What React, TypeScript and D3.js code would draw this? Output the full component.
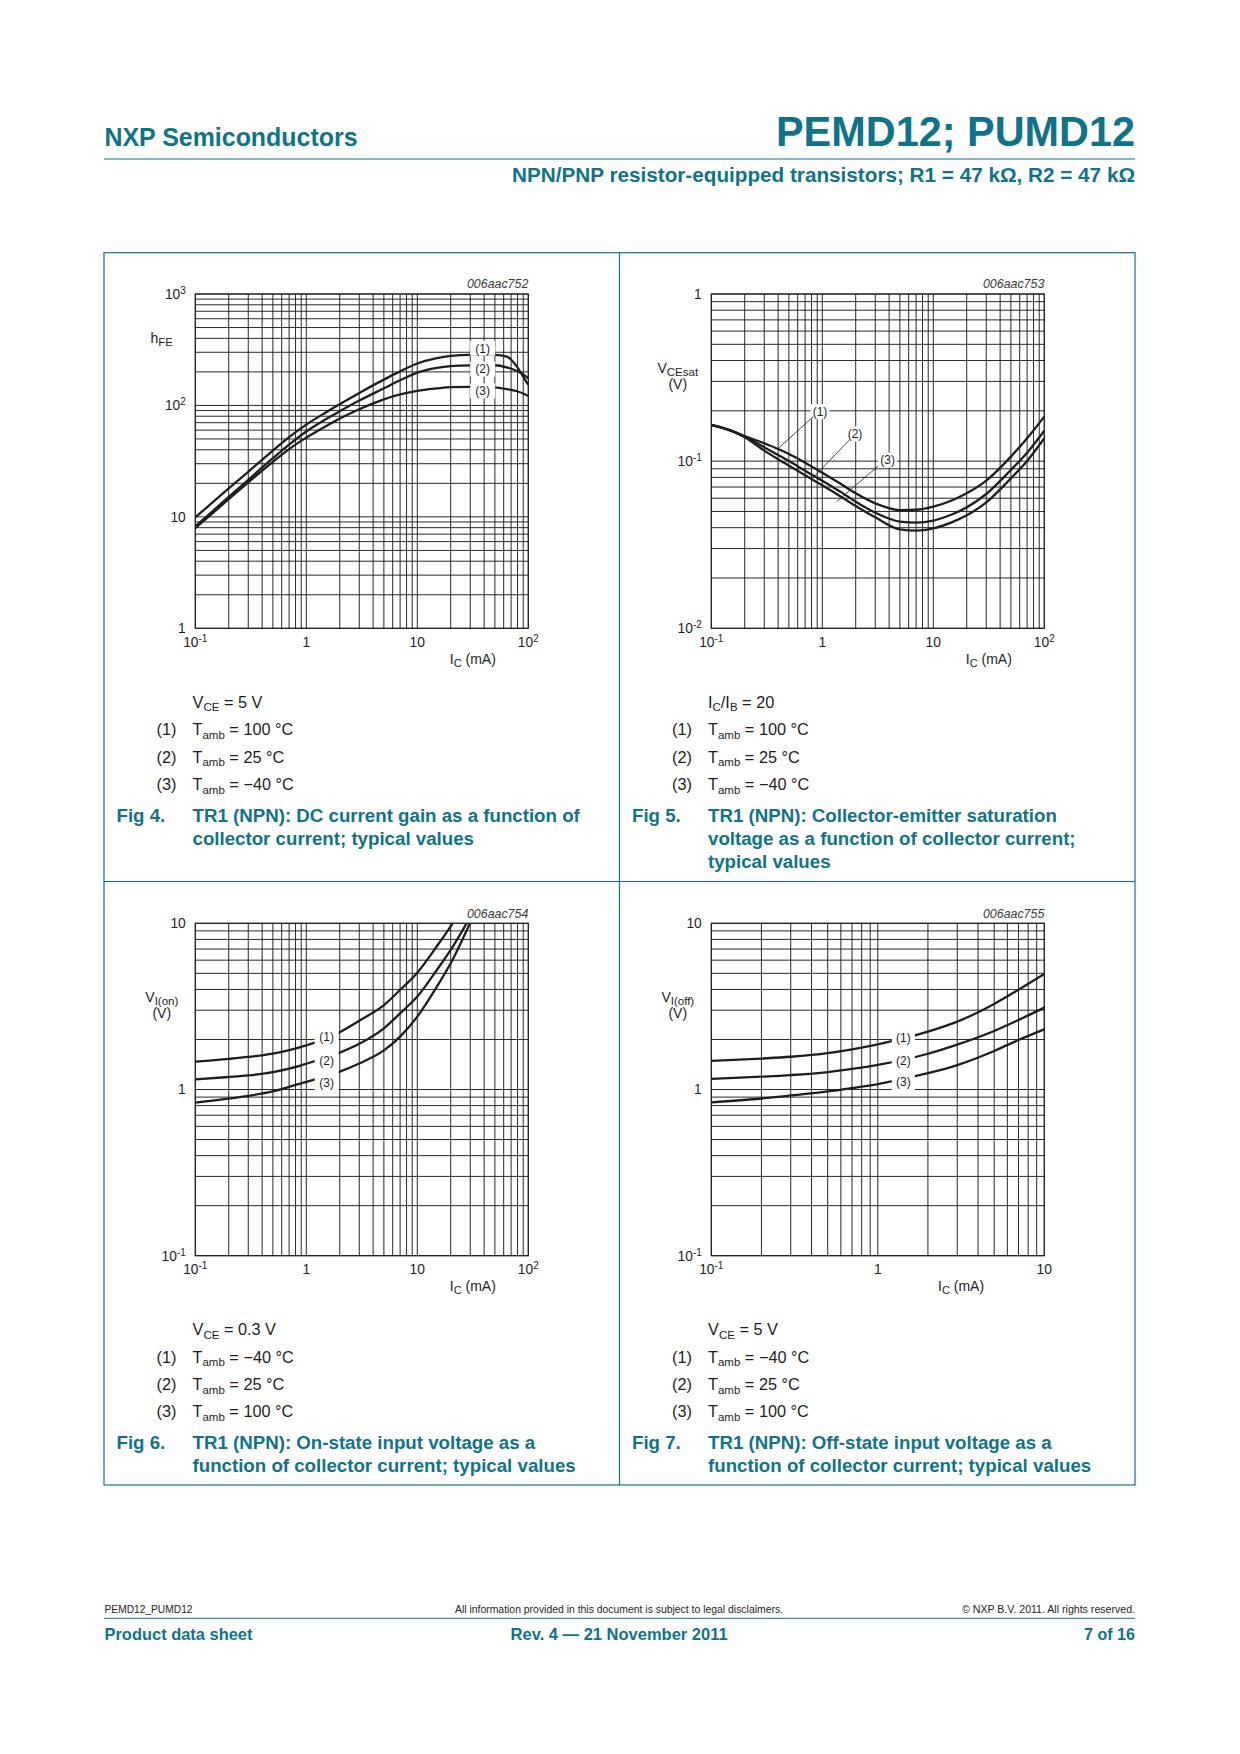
import React from "react";
import * as d3 from "d3";

const FONT = "'Liberation Sans', Arial, Helvetica, sans-serif";
const TEAL = "#0f7389";
const INK = "#1e1e1e";

// ---------- Fig 4: hFE vs IC ----------
const fig4Ic = [0.1, 0.2, 0.3, 0.5, 0.7, 1, 1.5, 2, 3, 5, 7, 10, 15, 20, 30, 50, 64, 79, 90, 100];
const fig4Hfe100 = [9.9, 18.0, 25.4, 39.4, 52.0, 67.3, 86.5, 102.5, 129.5, 170.5, 202, 238, 266, 278, 284, 284, 273.7, 222.7, 181, 152.6];
const fig4Hfe25 = [8.2, 15.1, 21.5, 33.6, 44.5, 58.4, 75.1, 88.5, 110.5, 142.4, 168, 197, 217.5, 225.5, 229, 229.5, 220, 204, 190, 175.2];
const fig4HfeM40 = [7.9, 14.4, 20.4, 31.2, 40.6, 51.4, 65.0, 76.2, 92.5, 113.5, 125.5, 135, 142, 146, 147, 145, 140, 134, 128, 121.5];
const fig4LabelIc = [38.8, 38.8, 38.8];
const fig4LabelHfe = [325.6, 212, 134.9];

// ---------- Fig 5: VCEsat vs IC ----------
const fig5Ic = [0.1, 0.15, 0.2, 0.3, 0.4, 0.5, 0.7, 1, 1.5, 2, 3, 5, 7, 10, 15, 20, 30, 50, 70, 100];
const fig5V100 = [0.1646, 0.1522, 0.1414, 0.1278, 0.1182, 0.1104, 0.0979, 0.0853, 0.0724, 0.0642, 0.0559, 0.051, 0.0512, 0.0534, 0.0586, 0.0642, 0.0764, 0.1064, 0.137, 0.1846];
const fig5V25 = [0.1646, 0.1522, 0.1402, 0.121, 0.1089, 0.1002, 0.0877, 0.0764, 0.0648, 0.0572, 0.0492, 0.0435, 0.0429, 0.0441, 0.0483, 0.0529, 0.0636, 0.0886, 0.1124, 0.1522];
const fig5VM40 = [0.1646, 0.1522, 0.1389, 0.1156, 0.1026, 0.094, 0.0823, 0.0717, 0.0608, 0.0539, 0.0461, 0.0391, 0.0384, 0.0396, 0.0433, 0.0474, 0.0567, 0.0789, 0.1002, 0.137];
const fig5LabelIc = [0.953, 1.97, 3.878];
const fig5LabelV = [0.1978, 0.1454, 0.1016];
const fig5LeaderFrom = [[0.4016, 0.1193], [0.818, 0.0789], [1.346, 0.0572]];
const fig5LeaderTo = [[0.8297, 0.1846], [1.751, 0.1338], [3.195, 0.0936]];

// ---------- Fig 6: VI(on) vs IC (last point lies above the frame and is clipped) ----------
const fig6IcM40 = [0.1, 0.2, 0.3, 0.5, 0.7, 1, 2, 3, 5, 7, 10, 15, 20, 25];
const fig6VM40 = [1.471, 1.528, 1.57, 1.644, 1.726, 1.841, 2.213, 2.594, 3.221, 3.972, 5.047, 7.278, 9.59, 12.0];
const fig6Ic25 = [0.1, 0.2, 0.3, 0.5, 0.7, 1, 2, 3, 5, 7, 10, 15, 20, 27.8];
const fig6V25 = [1.151, 1.189, 1.216, 1.271, 1.334, 1.429, 1.667, 1.884, 2.333, 2.871, 3.622, 5.236, 6.911, 10];
const fig6Ic100 = [0.1, 0.2, 0.3, 0.5, 0.7, 1, 2, 3, 5, 7, 10, 15, 20, 29.8];
const fig6V100 = [0.833, 0.881, 0.916, 0.973, 1.038, 1.112, 1.282, 1.435, 1.718, 2.08, 2.744, 4.157, 5.744, 10];
const fig6LabelIc = [1.525, 1.525, 1.525];
const fig6LabelV = [2.08, 1.491, 1.099];

// ---------- Fig 7: VI(off) vs IC ----------
const fig7Ic = [0.1, 0.2, 0.3, 0.5, 0.7, 1, 2, 3, 5, 7, 10];
const fig7VM40 = [1.485, 1.535, 1.574, 1.656, 1.746, 1.871, 2.228, 2.559, 3.273, 3.981, 4.955];
const fig7V25 = [1.157, 1.194, 1.222, 1.274, 1.33, 1.406, 1.641, 1.862, 2.249, 2.618, 3.108];
const fig7V100 = [0.837, 0.883, 0.92, 0.973, 1.021, 1.079, 1.253, 1.403, 1.706, 1.986, 2.301];
const fig7LabelIc = [1.423, 1.423, 1.423];
const fig7LabelV = [2.06, 1.491, 1.115];

// ---------- tick labels ----------
type Tick = { v: number; base: string; exp?: string };
const xTicks3: Tick[] = [{ v: 0.1, base: "10", exp: "-1" }, { v: 1, base: "1" }, { v: 10, base: "10" }, { v: 100, base: "10", exp: "2" }];
const xTicks2: Tick[] = [{ v: 0.1, base: "10", exp: "-1" }, { v: 1, base: "1" }, { v: 10, base: "10" }];
const hfeTicks: Tick[] = [{ v: 1, base: "1" }, { v: 10, base: "10" }, { v: 100, base: "10", exp: "2" }, { v: 1000, base: "10", exp: "3" }];
const vcesatTicks: Tick[] = [{ v: 0.01, base: "10", exp: "-2" }, { v: 0.1, base: "10", exp: "-1" }, { v: 1, base: "1" }];
const vinTicks: Tick[] = [{ v: 0.1, base: "10", exp: "-1" }, { v: 1, base: "1" }, { v: 10, base: "10" }];
const curveNames = ["(1)", "(2)", "(3)"];

function logGrid(domain: number[]) {
  const out: number[] = [];
  const e0 = Math.floor(Math.log10(domain[0]) + 1e-9);
  const e1 = Math.ceil(Math.log10(domain[1]) - 1e-9);
  for (let e = e0; e <= e1; e++) {
    for (let k = 1; k <= 9; k++) {
      const v = k * Math.pow(10, e);
      if (v >= domain[0] * 0.999 && v <= domain[1] * 1.001) out.push(v);
    }
  }
  return out;
}

const TickText = ({ t, x, y, anchor }: any) => (
  <text x={x} y={y} textAnchor={anchor} fontSize={13.8} fontFamily={FONT} fill={INK}>
    <tspan>{t.base}</tspan>
    {t.exp ? <tspan dy={-5} fontSize={10}>{t.exp}</tspan> : null}
  </text>
);

type ChartSpec = {
  id: string;
  left: number; top: number; width: number; height: number;
  xDomain: number[]; yDomain: number[];
  series: { x: number[]; y: number[] }[];
  xTicks: Tick[]; yTicks: Tick[];
  yMain: string; ySub: string; yUnit?: string;
  code: string;
  labelX: number[]; labelY: number[];
  mask: "each" | "column"; maskW: number; maskH: number;
  leaderFrom?: number[][]; leaderTo?: number[][];
};

const Chart = ({ s }: { s: ChartSpec }) => {
  const xs = d3.scaleLog().domain(s.xDomain).range([s.left, s.left + s.width]);
  const ys = d3.scaleLog().domain(s.yDomain).range([s.top + s.height, s.top]);
  const line = d3.line<[number, number]>().x(d => xs(d[0])).y(d => ys(d[1])).curve(d3.curveMonotoneX);
  const xg = logGrid(s.xDomain);
  const yg = logGrid(s.yDomain);
  const bottom = s.top + s.height;
  const right = s.left + s.width;
  const majors = s.xTicks.map(t => t.v);
  const titleIc = Math.sqrt(majors[majors.length - 1] * majors[majors.length - 2]);
  const lx = s.labelX.map(v => xs(v));
  const ly = s.labelY.map(v => ys(v));
  return (
    <g>
      <defs>
        <clipPath id={"clip-" + s.id}>
          <rect x={s.left} y={s.top} width={s.width} height={s.height} />
        </clipPath>
      </defs>
      {xg.map((v, i) => (
        <line key={"xg" + i} x1={xs(v)} x2={xs(v)} y1={s.top} y2={bottom} stroke={INK} strokeWidth={0.95} />
      ))}
      {yg.map((v, i) => (
        <line key={"yg" + i} x1={s.left} x2={right} y1={ys(v)} y2={ys(v)} stroke={INK} strokeWidth={0.95} />
      ))}
      <rect x={s.left} y={s.top} width={s.width} height={s.height} fill="none" stroke={INK} strokeWidth={1.1} />
      <g clipPath={`url(#clip-${s.id})`}>
        {s.series.map((sr, i) => (
          <path key={"c" + i} d={line(sr.x.map((x, j) => [x, sr.y[j]] as [number, number])) || ""} fill="none" stroke={INK} strokeWidth={2.3} strokeLinejoin="round" />
        ))}
      </g>
      {s.mask === "each"
        ? lx.map((x, i) => (
            <rect key={"m" + i} x={x - s.maskW / 2} y={ly[i] - s.maskH / 2} width={s.maskW} height={s.maskH} fill="#fff" />
          ))
        : <rect x={lx[0] - s.maskW / 2} y={ly[0] - s.maskH / 2} width={s.maskW} height={ly[ly.length - 1] - ly[0] + s.maskH} fill="#fff" />}
      {s.leaderFrom && s.leaderTo
        ? s.leaderFrom.map((p, i) => (
            <line key={"ld" + i} x1={xs(p[0])} y1={ys(p[1])} x2={xs(s.leaderTo![i][0])} y2={ys(s.leaderTo![i][1])} stroke={INK} strokeWidth={0.8} />
          ))
        : null}
      {lx.map((x, i) => (
        <text key={"lb" + i} x={x} y={ly[i] + 4.3} textAnchor="middle" fontSize={12} fontFamily={FONT} fill={INK}>{curveNames[i]}</text>
      ))}
      {s.xTicks.map((t, i) => (
        <TickText key={"xt" + i} t={t} x={xs(t.v)} y={bottom + 18.5} anchor="middle" />
      ))}
      {s.yTicks.map((t, i) => (
        <TickText key={"yt" + i} t={t} x={s.left - 9.5} y={ys(t.v) + 4.8} anchor="end" />
      ))}
      <text x={xs(titleIc)} y={bottom + 35.5} textAnchor="middle" fontSize={14} fontFamily={FONT} fill={INK} style={{ whiteSpace: "pre" }}>
        <tspan>I</tspan><tspan fontSize={11} dy={3}>C</tspan><tspan dy={-3}>{" (mA)"}</tspan>
      </text>
      <text x={s.left - 33.5} y={s.top + (s.yUnit ? 79 : 49)} textAnchor="middle" fontSize={14} fontFamily={FONT} fill={INK}>
        <tspan>{s.yMain}</tspan><tspan fontSize={11.5} dy={3}>{s.ySub}</tspan>
      </text>
      {s.yUnit ? (
        <text x={s.left - 33.5} y={s.top + 94.5} textAnchor="middle" fontSize={14} fontFamily={FONT} fill={INK}>{s.yUnit}</text>
      ) : null}
      <text x={right} y={s.top - 5.7} textAnchor="end" fontSize={12.4} fontStyle="italic" fontFamily={FONT} fill="#3a3a3a">{s.code}</text>
    </g>
  );
};

const charts: ChartSpec[] = [
  {
    id: "f4", left: 195.3, top: 294, width: 333, height: 334.3,
    xDomain: [0.1, 100], yDomain: [1, 1000],
    series: [{ x: fig4Ic, y: fig4Hfe100 }, { x: fig4Ic, y: fig4Hfe25 }, { x: fig4Ic, y: fig4HfeM40 }],
    xTicks: xTicks3, yTicks: hfeTicks, yMain: "h", ySub: "FE", code: "006aac752",
    labelX: fig4LabelIc, labelY: fig4LabelHfe, mask: "each", maskW: 25, maskH: 15,
  },
  {
    id: "f5", left: 711.3, top: 294, width: 333, height: 334.3,
    xDomain: [0.1, 100], yDomain: [0.01, 1],
    series: [{ x: fig5Ic, y: fig5V100 }, { x: fig5Ic, y: fig5V25 }, { x: fig5Ic, y: fig5VM40 }],
    xTicks: xTicks3, yTicks: vcesatTicks, yMain: "V", ySub: "CEsat", yUnit: "(V)", code: "006aac753",
    labelX: fig5LabelIc, labelY: fig5LabelV, mask: "each", maskW: 19, maskH: 15,
    leaderFrom: fig5LeaderFrom, leaderTo: fig5LeaderTo,
  },
  {
    id: "f6", left: 195.3, top: 923.3, width: 333, height: 332.4,
    xDomain: [0.1, 100], yDomain: [0.1, 10],
    series: [{ x: fig6IcM40, y: fig6VM40 }, { x: fig6Ic25, y: fig6V25 }, { x: fig6Ic100, y: fig6V100 }],
    xTicks: xTicks3, yTicks: vinTicks, yMain: "V", ySub: "I(on)", yUnit: "(V)", code: "006aac754",
    labelX: fig6LabelIc, labelY: fig6LabelV, mask: "column", maskW: 24, maskH: 18,
  },
  {
    id: "f7", left: 711.3, top: 923.3, width: 333, height: 332.4,
    xDomain: [0.1, 10], yDomain: [0.1, 10],
    series: [{ x: fig7Ic, y: fig7VM40 }, { x: fig7Ic, y: fig7V25 }, { x: fig7Ic, y: fig7V100 }],
    xTicks: xTicks2, yTicks: vinTicks, yMain: "V", ySub: "I(off)", yUnit: "(V)", code: "006aac755",
    labelX: fig7LabelIc, labelY: fig7LabelV, mask: "column", maskW: 23, maskH: 18,
  },
];

type Legend = {
  boxLeft: number; base: number;
  cond: React.ReactNode;
  temps: string[];
  fig: string;
  caption: string[];
};

const tempsHot = ["100 °C", "25 °C", "\u221240 °C"];
const tempsCold = ["\u221240 °C", "25 °C", "100 °C"];

const legends: Legend[] = [
  {
    boxLeft: 104, base: 628.3,
    cond: (<><tspan>V</tspan><tspan fontSize={11.5} dy={3.5}>CE</tspan><tspan dy={-3.5}>{" = 5 V"}</tspan></>),
    temps: tempsHot, fig: "Fig 4.",
    caption: ["TR1 (NPN): DC current gain as a function of", "collector current; typical values"],
  },
  {
    boxLeft: 619.5, base: 628.3,
    cond: (<><tspan>I</tspan><tspan fontSize={11.5} dy={3.5}>C</tspan><tspan dy={-3.5}>/I</tspan><tspan fontSize={11.5} dy={3.5}>B</tspan><tspan dy={-3.5}>{" = 20"}</tspan></>),
    temps: tempsHot, fig: "Fig 5.",
    caption: ["TR1 (NPN): Collector-emitter saturation", "voltage as a function of collector current;", "typical values"],
  },
  {
    boxLeft: 104, base: 1255.7,
    cond: (<><tspan>V</tspan><tspan fontSize={11.5} dy={3.5}>CE</tspan><tspan dy={-3.5}>{" = 0.3 V"}</tspan></>),
    temps: tempsCold, fig: "Fig 6.",
    caption: ["TR1 (NPN): On-state input voltage as a", "function of collector current; typical values"],
  },
  {
    boxLeft: 619.5, base: 1255.7,
    cond: (<><tspan>V</tspan><tspan fontSize={11.5} dy={3.5}>CE</tspan><tspan dy={-3.5}>{" = 5 V"}</tspan></>),
    temps: tempsCold, fig: "Fig 7.",
    caption: ["TR1 (NPN): Off-state input voltage as a", "function of collector current; typical values"],
  },
];

const LegendBlock = ({ l }: { l: Legend }) => {
  const tx = l.boxLeft + 88.5;
  return (
    <g fontFamily={FONT} style={{ whiteSpace: "pre" }}>
      <text x={tx} y={l.base + 79.4} fontSize={16.3} fill={INK}>{l.cond}</text>
      {l.temps.map((t, i) => (
        <g key={i}>
          <text x={l.boxLeft + 52.5} y={l.base + 106.9 + i * 27.4} fontSize={16.3} fill={INK}>{curveNames[i]}</text>
          <text x={tx} y={l.base + 106.9 + i * 27.4} fontSize={16.3} fill={INK}>
            <tspan>T</tspan><tspan fontSize={11.5} dy={3.5}>amb</tspan><tspan dy={-3.5}>{" = " + t}</tspan>
          </text>
        </g>
      ))}
      <text x={l.boxLeft + 12.5} y={l.base + 193.4} fontSize={18.7} fontWeight="bold" fill={TEAL}>{l.fig}</text>
      {l.caption.map((c, i) => (
        <text key={"c" + i} x={tx} y={l.base + 193.4 + i * 23} fontSize={18.7} fontWeight="bold" fill={TEAL}>{c}</text>
      ))}
    </g>
  );
};

export default function App() {
  return (
    <svg width={1240} height={1754} viewBox="0 0 1240 1754" style={{ position: "absolute", left: 0, top: 0, background: "#fff" }}>
      <rect x={0} y={0} width={1240} height={1754} fill="#fff" />
      {/* header */}
      <text x={104.5} y={145.5} fontFamily={FONT} fontWeight="bold" fontSize={25} fill={TEAL} textLength={253} lengthAdjust="spacingAndGlyphs">NXP Semiconductors</text>
      <text x={776} y={146} fontFamily={FONT} fontWeight="bold" fontSize={43} fill={TEAL} textLength={359} lengthAdjust="spacingAndGlyphs">PEMD12; PUMD12</text>
      <line x1={104} x2={1135} y1={159} y2={159} stroke={TEAL} strokeWidth={1.2} />
      <text x={512} y={181.5} fontFamily={FONT} fontWeight="bold" fontSize={19.5} fill={TEAL} textLength={623} lengthAdjust="spacingAndGlyphs">NPN/PNP resistor-equipped transistors; R1 = 47 kΩ, R2 = 47 kΩ</text>

      {/* frame */}
      <rect x={104} y={252.7} width={1031} height={1232.3} fill="none" stroke={TEAL} strokeWidth={1.2} />
      <line x1={619.5} x2={619.5} y1={252.7} y2={1485} stroke={TEAL} strokeWidth={1.2} />
      <line x1={104} x2={1135} y1={881.5} y2={881.5} stroke={TEAL} strokeWidth={1.2} />

      {charts.map(c => <Chart key={c.id} s={c} />)}
      {legends.map((l, i) => <LegendBlock key={i} l={l} />)}

      {/* footer */}
      <text x={104.5} y={1612.7} fontFamily={FONT} fontSize={10.5} fill={INK} textLength={88} lengthAdjust="spacingAndGlyphs">PEMD12_PUMD12</text>
      <text x={455} y={1612.7} fontFamily={FONT} fontSize={10.5} fill={INK} textLength={328} lengthAdjust="spacingAndGlyphs">All information provided in this document is subject to legal disclaimers.</text>
      <text x={962} y={1612.7} fontFamily={FONT} fontSize={10.5} fill={INK} textLength={173} lengthAdjust="spacingAndGlyphs">© NXP B.V. 2011. All rights reserved.</text>
      <line x1={104} x2={1135} y1={1618.3} y2={1618.3} stroke={TEAL} strokeWidth={1} />
      <text x={104.5} y={1640} fontFamily={FONT} fontWeight="bold" fontSize={16.5} fill={TEAL} textLength={148} lengthAdjust="spacingAndGlyphs">Product data sheet</text>
      <text x={510.6} y={1640} fontFamily={FONT} fontWeight="bold" fontSize={16.5} fill={TEAL} textLength={217} lengthAdjust="spacingAndGlyphs">Rev. 4 — 21 November 2011</text>
      <text x={1084} y={1640} fontFamily={FONT} fontWeight="bold" fontSize={16.5} fill={TEAL} textLength={51} lengthAdjust="spacingAndGlyphs">7 of 16</text>
    </svg>
  );
}
